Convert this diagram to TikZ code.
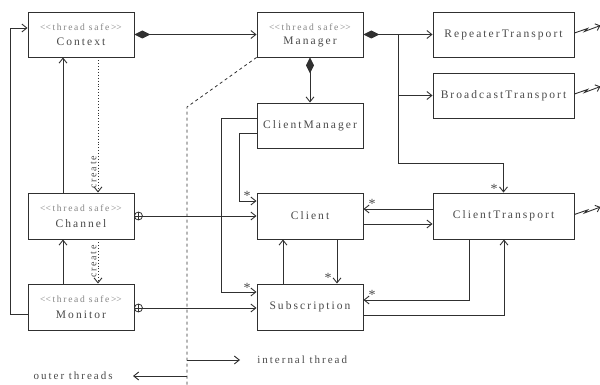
\documentclass[tikz,border=0pt]{standalone}
\usepackage{fontspec}
\setmainfont[LetterSpace=18]{Liberation Serif}
\usetikzlibrary{arrows.meta}
\definecolor{txt}{HTML}{4A4A4A}
\definecolor{stc}{HTML}{858585}
\definecolor{ln}{HTML}{303030}
\begin{document}
\begin{tikzpicture}[x=1pt,y=-1pt,
  line width=0.9pt, color=ln,
  box/.style={draw=ln, fill=white, minimum width=106pt, minimum height=45pt, inner sep=0pt, align=center, text=txt, font=\fontsize{11.5}{15}\selectfont},
  widebox/.style={box, minimum width=141pt},
  stereo/.style={inner sep=0pt, text=stc, font=\fontsize{9.5}{10}\selectfont},
  cname/.style={inner sep=0pt, text=txt, font=\fontsize{11.5}{13}\selectfont},
  arr/.style={-{Straight Barb[length=5pt,width=8pt]}},
  dia/.style={{Diamond[length=16pt,width=8pt,fill=ln]}-{Straight Barb[length=5pt,width=8pt]}},
  star/.style={text=txt, font=\fontsize{14}{14}\selectfont, inner sep=0pt},
  lbl/.style={text=txt, font=\fontsize{11}{12}\selectfont, inner sep=0pt},
  crt/.style={text=txt, font=\fontsize{10}{11}\selectfont, inner sep=1pt, rotate=90, anchor=south}
]
\useasboundingbox (0,0) rectangle (600,385);
\newcommand{\stt}{<\kern0pt<thread safe>\kern0pt>}

% boxes
\node[box] (context) at (81,34.5) {};
\node[box] (manager) at (310,34.5) {};
\node[widebox] (repeater) at (503.5,34.5) {RepeaterTransport};
\node[widebox] (broadcast) at (503.5,95.5) {BroadcastTransport};
\node[box] (clientmgr) at (310,125.5) {ClientManager};
\node[box, minimum height=46pt] (client) at (310,216) {Client};
\node[widebox, minimum height=46pt] (ctrans) at (503.5,216) {ClientTransport};
\node[box, minimum height=46pt] (channel) at (81,216) {};
\node[box, minimum height=46pt] (monitor) at (81,307) {};
\node[box, minimum height=46pt] (subscr) at (310,307) {Subscription};
\foreach \n/\t in {context/Context, manager/Manager, channel/Channel, monitor/Monitor}{
  \node[stereo] (\n S) at ([yshift=7.5pt]\n.center) {\stt};
  \node[cname] (\n N) at ([yshift=-7.5pt]\n.center) {\t};
}

% thread boundary
\coordinate (dbend) at (187,107);
\coordinate (dend) at (187,385);
\draw[dashed, line width=0.8pt] (manager.south west) -- (dbend) -- (dend);

% left loop
\draw[arr] ([yshift=-7pt]monitor.west) -- ++(-17,0) |- ([yshift=6.5pt]context.west);
\draw[arr] ([xshift=-18pt]channel.north) -- ([xshift=-18pt]context.south);
\draw[arr] ([xshift=-18pt]monitor.north) -- ([xshift=-18pt]channel.south);

% create
\draw[arr, dotted] ([xshift=17pt]context.south) -- ([xshift=17pt]channel.north)
  node[crt, pos=0.85] (create1) {create};
\draw[arr, dotted] ([xshift=17pt]channel.south) -- ([xshift=17pt]monitor.north)
  node[crt, pos=0.5] (create2) {create};

% compositions
\draw[dia] (context.east) -- (manager.west);
\draw[dia] (manager.east) -- (repeater.west);
\draw[dia] (manager.south) -- (clientmgr.north);
\coordinate (br) at (398,34.5);
\coordinate (brlow) at (398,163);
\draw[arr] (br) |- (broadcast.west);
\draw[arr] (br) -- (brlow) -| (ctrans.north);
\node[star] (s1) at (494,189) {*};

% client manager
\draw[arr] ([yshift=-7.5pt]clientmgr.west) -- ++(-17,0) |- ([yshift=15pt]client.west);
\node[star] (s2) at (247,196) {*};
\draw[arr] ([yshift=7.5pt]clientmgr.west) -- ++(-35,0) |- ([yshift=15pt]subscr.west);
\node[star] (s3) at (247,288) {*};

% channel / monitor
\draw[arr] (channel.east) -- (client.west);
\draw[arr] ([yshift=-1pt]monitor.east) -- ([yshift=-1pt]subscr.west);
\foreach \n/\dy in {channel/0, monitor/-1}{
  \draw[line width=0.8pt] ([xshift=4pt,yshift=\dy pt]\n.east) circle (4pt);
  \draw[line width=0.8pt] ([xshift=4pt,yshift=\dy pt+4pt]\n.east) -- ([xshift=4pt,yshift=\dy pt-4pt]\n.east);
}

% client / subscription
\draw[arr] ([xshift=-27pt]subscr.north) -- ([xshift=-27pt]client.south);
\draw[arr] ([xshift=27pt]client.south) -- ([xshift=27pt]subscr.north);
\node[star] (s4) at (328,278) {*};

% client / transport
\draw[arr] ([yshift=7pt]ctrans.west) -- ([yshift=7pt]client.east);
\node[star] (s5) at (372,204) {*};
\draw[arr] ([yshift=-8pt]client.east) -- ([yshift=-8pt]ctrans.west);
\draw[arr] ([xshift=-34.5pt]ctrans.south) |- ([yshift=7pt]subscr.east);
\node[star] (s6) at (372,295) {*};
\draw[arr] ([yshift=-8pt]subscr.east) -| ([xshift=0.5pt]ctrans.south);

% lightning
\foreach \n in {repeater, broadcast, ctrans}{
  \draw[-{Straight Barb[length=4pt,width=7pt]}, line width=0.9pt]
    ([yshift=1.5pt]\n.east) -- ++(13,-4.5) -- ++(-3,3) -- ++(16,-6);
}

% legend
\node[lbl, anchor=west] (intl) at (257,360) {internal thread};
\node[lbl, anchor=east] (outl) at (113,376) {outer threads};
\coordinate (li) at (187,360);
\coordinate (lo) at (187,376);
\draw[arr] (li) -- ([xshift=-17pt]intl.west);
\draw[arr] (lo) -- ([xshift=20pt]outl.east);
\end{tikzpicture}
\end{document}
